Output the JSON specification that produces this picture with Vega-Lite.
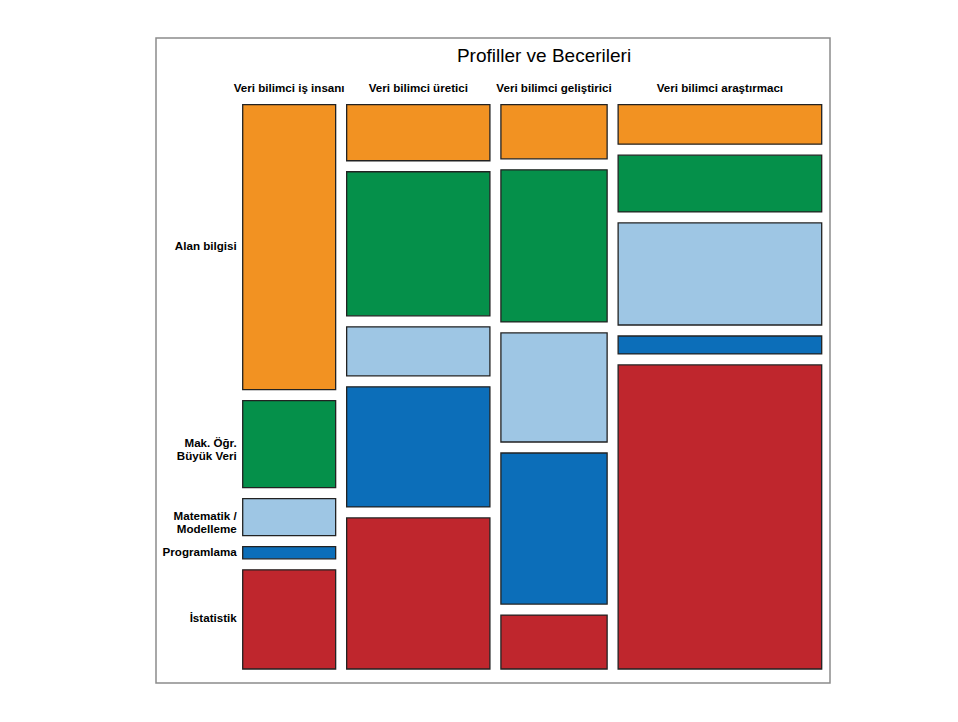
{
  "$schema": "https://vega.github.io/schema/vega-lite/v6.json",
  "width": 674,
  "height": 645,
  "autosize": "none",
  "padding": {"left": 156, "top": 38, "right": 128, "bottom": 39},
  "background": "white",
  "config": {"view": {"stroke": "#8c8c8c", "strokeWidth": 1.5}, "font": "Liberation Sans"},
  "title": {"text": "Profiller ve Becerileri", "fontSize": 19, "fontWeight": "normal", "color": "#000000", "frame": "group", "anchor": "middle", "dx": 51, "offset": -43, "baseline": "alphabetic", "font": "Liberation Sans"},
  "data": {"values": [
    {"profile": "Veri bilimci iş insanı", "skill": "Alan bilgisi", "value": 9.07},
    {"profile": "Veri bilimci iş insanı", "skill": "Mak. Öğr.\nBüyük Veri", "value": 3.0},
    {"profile": "Veri bilimci iş insanı", "skill": "Matematik /\nModelleme", "value": 1.47},
    {"profile": "Veri bilimci iş insanı", "skill": "Programlama", "value": 0.715},
    {"profile": "Veri bilimci iş insanı", "skill": "İstatistik", "value": 3.375},
    {"profile": "Veri bilimci üretici", "skill": "Alan bilgisi", "value": 3.05},
    {"profile": "Veri bilimci üretici", "skill": "Mak. Öğr.\nBüyük Veri", "value": 7.05},
    {"profile": "Veri bilimci üretici", "skill": "Matematik /\nModelleme", "value": 2.73},
    {"profile": "Veri bilimci üretici", "skill": "Programlama", "value": 5.96},
    {"profile": "Veri bilimci üretici", "skill": "İstatistik", "value": 7.37},
    {"profile": "Veri bilimci geliştirici", "skill": "Alan bilgisi", "value": 2.25},
    {"profile": "Veri bilimci geliştirici", "skill": "Mak. Öğr.\nBüyük Veri", "value": 5.635},
    {"profile": "Veri bilimci geliştirici", "skill": "Matematik /\nModelleme", "value": 4.15},
    {"profile": "Veri bilimci geliştirici", "skill": "Programlama", "value": 5.6},
    {"profile": "Veri bilimci geliştirici", "skill": "İstatistik", "value": 2.243},
    {"profile": "Veri bilimci araştırmacı", "skill": "Alan bilgisi", "value": 3.19},
    {"profile": "Veri bilimci araştırmacı", "skill": "Mak. Öğr.\nBüyük Veri", "value": 4.29},
    {"profile": "Veri bilimci araştırmacı", "skill": "Matematik /\nModelleme", "value": 7.15},
    {"profile": "Veri bilimci araştırmacı", "skill": "Programlama", "value": 1.83},
    {"profile": "Veri bilimci araştırmacı", "skill": "İstatistik", "value": 19.93}
  ]},
  "transform": [
    {"stack": "value", "groupby": [], "as": ["px0", "px1"], "offset": "normalize"},
    {"window": [{"op": "min", "field": "px0", "as": "x"}, {"op": "max", "field": "px1", "as": "x2"}], "groupby": ["profile"], "frame": [null, null]},
    {"stack": "value", "groupby": ["profile"], "as": ["y", "y2"], "offset": "normalize", "sort": [{"field": "skill", "order": "ascending"}]}
  ],
  "layer": [
    {
      "mark": {"type": "rect", "stroke": "#222222", "strokeWidth": 1.3, "xOffset": 5.5, "x2Offset": -5.5, "yOffset": 5.5, "y2Offset": -5.5},
      "encoding": {
        "x": {"field": "x", "type": "quantitative", "scale": {"domain": [0, 1], "range": [81.2, 671.2], "nice": false, "zero": false}, "axis": null},
        "x2": {"field": "x2"},
        "y": {"field": "y", "type": "quantitative", "scale": {"domain": [0, 1], "range": [61.2, 636.5], "nice": false, "zero": false}, "axis": null},
        "y2": {"field": "y2"},
        "color": {"field": "skill", "type": "nominal", "legend": null, "scale": {"domain": ["Alan bilgisi", "Mak. Öğr.\nBüyük Veri", "Matematik /\nModelleme", "Programlama", "İstatistik"], "range": ["#F29222", "#05904A", "#9EC6E4", "#0C6EB9", "#BF262D"]}}
      }
    },
    {
      "transform": [
        {"filter": {"field": "profile", "equal": "Veri bilimci iş insanı"}},
        {"fold": ["y", "y2"], "as": ["edge", "pos"]},
        {"aggregate": [{"op": "mean", "field": "pos", "as": "ym"}, {"op": "min", "field": "x", "as": "xm"}], "groupby": ["skill"]}
      ],
      "mark": {"type": "text", "align": "right", "baseline": "middle", "fontWeight": "bold", "fontSize": 11.6, "lineBreak": "\n", "lineHeight": 13.3, "dx": -0.5, "color": "#000000", "font": "Liberation Sans"},
      "encoding": {
        "x": {"field": "xm", "type": "quantitative", "scale": {"domain": [0, 1], "range": [81.2, 671.2], "nice": false, "zero": false}, "axis": null},
        "y": {"field": "ym", "type": "quantitative", "scale": {"domain": [0, 1], "range": [61.2, 636.5], "nice": false, "zero": false}, "axis": null},
        "text": {"field": "skill"}
      }
    },
    {
      "transform": [
        {"fold": ["x", "x2"], "as": ["edge", "pos"]},
        {"aggregate": [{"op": "mean", "field": "pos", "as": "xc"}], "groupby": ["profile"]}
      ],
      "mark": {"type": "text", "align": "center", "baseline": "alphabetic", "fontWeight": "bold", "fontSize": 11.6, "dy": -7.7, "color": "#000000", "font": "Liberation Sans"},
      "encoding": {
        "x": {"field": "xc", "type": "quantitative", "scale": {"domain": [0, 1], "range": [81.2, 671.2], "nice": false, "zero": false}, "axis": null},
        "y": {"datum": 0, "type": "quantitative", "scale": {"domain": [0, 1], "range": [61.2, 636.5], "nice": false, "zero": false}, "axis": null},
        "text": {"field": "profile"}
      }
    }
  ]
}
